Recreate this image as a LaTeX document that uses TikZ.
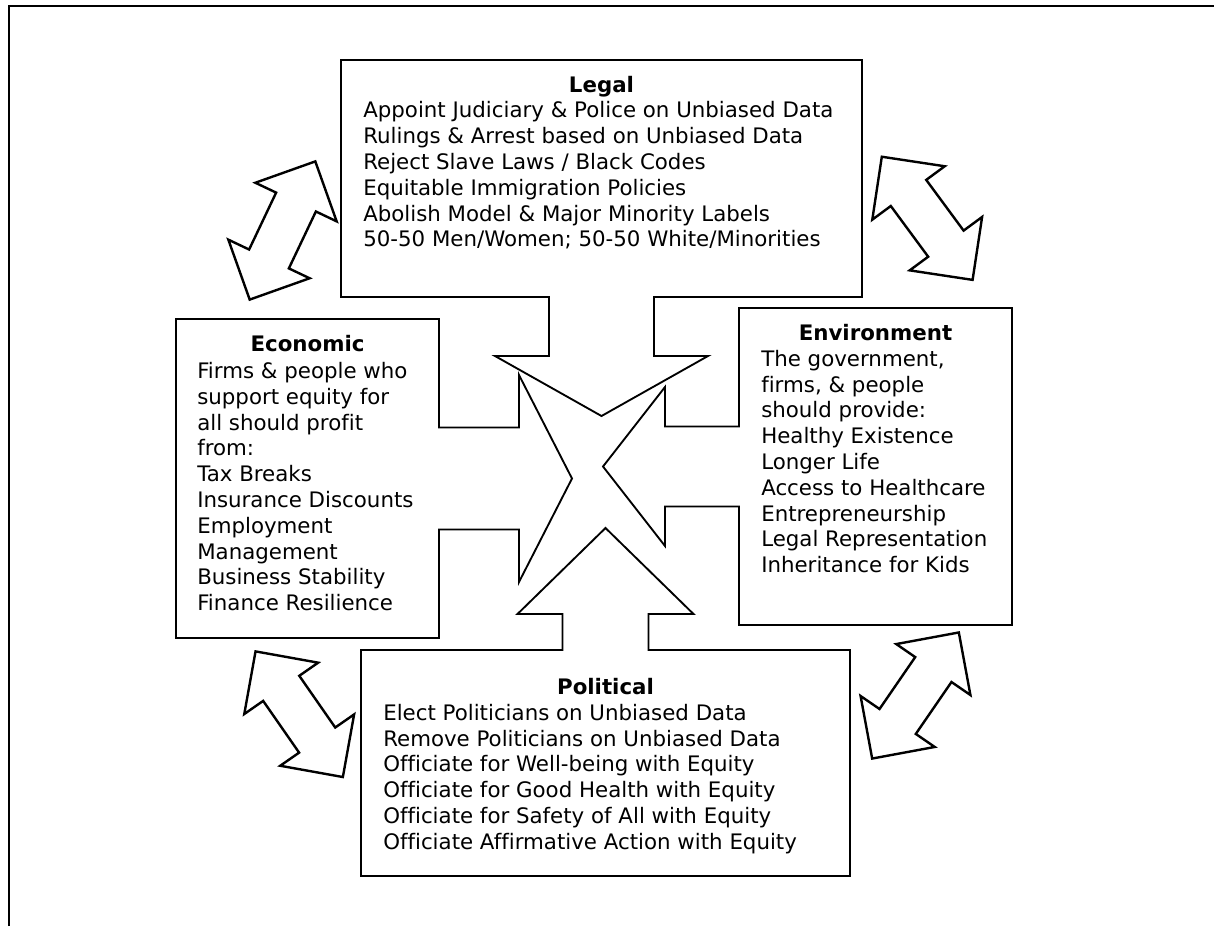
\documentclass[tikz,border=0pt]{standalone}
\usepackage{fontspec}
\setmainfont{DejaVu Sans}[Ligatures=NoCommon]
\usetikzlibrary{calc}

\newcommand{\pxl}{0.75pt}

\begin{document}
\begin{tikzpicture}[x=\pxl, y=-\pxl,
  area/.style={inner sep=0pt, outer sep=0pt},
  callout/.style={draw=black, line width=1.4pt, fill=white, line join=miter},
  blockarrow/.style={draw=black, line width=1.8pt, fill=white, line join=miter},
  heading/.style={inner sep=0pt, anchor=north,
    font=\fontsize{16}{19.35}\selectfont\bfseries},
  bodytext/.style={inner sep=0pt, align=left, anchor=north west,
    font=\fontsize{16}{19.35}\selectfont}]

  \useasboundingbox (0,0) rectangle (1214,926);

  % outer frame
  \draw[line width=2pt] (9,926) -- (9,6) -- (1214,6);

  % the four areas
  \node[area, minimum width=521*\pxl, minimum height=237*\pxl] (legal) at (601.5,178.5) {};
  \node[area, minimum width=263*\pxl, minimum height=319*\pxl] (economic) at (307.5,478.5) {};
  \node[area, minimum width=273*\pxl, minimum height=317*\pxl] (environ) at (875.5,466.5) {};
  \node[area, minimum width=489*\pxl, minimum height=226*\pxl] (political) at (605.5,763) {};

  % callout outlines, each with its arrow to the middle
  \draw[callout] (legal.south west) -- (legal.north west) -- (legal.north east) -- (legal.south east)
    -- ($(legal.south)+(52.5,0)$) -- ++(0,59) -- ++(54,0) -- ($(legal.south)+(0,119)$)
    -- ++(-106.5,-60) -- ++(54,0) -- ++(0,-59) -- cycle;
  \draw[callout] (economic.south east) -- (economic.south west) -- (economic.north west) -- (economic.north east)
    -- ($(economic.east)+(0,-51)$) -- ++(80,0) -- ++(0,-52.5) -- ($(economic.east)+(133,0)$)
    -- ++(-53,103.5) -- ++(0,-52.5) -- ++(-80,0) -- cycle;
  \draw[callout] (environ.north west) -- (environ.north east) -- (environ.south east) -- (environ.south west)
    -- ($(environ.west)+(0,40)$) -- ++(-74,0) -- ++(0,39.5) -- ($(environ.west)+(-136,0)$)
    -- ++(62,-79.5) -- ++(0,39.5) -- ++(74,0) -- cycle;
  \draw[callout] (political.north west) -- ($(political.north)+(-43,0)$) -- ++(0,-36) -- ++(-45,0)
    -- ($(political.north)+(0,-122)$) -- ++(88,86) -- ++(-45,0) -- ++(0,36)
    -- (political.north east) -- (political.south east) -- (political.south west) -- cycle;

  % double arrows between the areas
  \foreach \cx/\cy/\ang in {282.5/230.5/64.6, 927.2/218.3/126.4,
                            299.2/714.2/124.8, 915.5/695.5/55.5}
    \draw[blockarrow, shift={(\cx,\cy)}, rotate=\ang]
      (76.5,0) -- (31.5,45) -- (31.5,22) -- (-31.5,22) -- (-31.5,45) -- (-76.5,0)
      -- (-31.5,-45) -- (-31.5,-22) -- (31.5,-22) -- (31.5,-45) -- cycle;

  % texts
  \node[heading] (legal-title) at ($(legal.north)+(0,15.8)$) {Legal};
  \node[bodytext] (legal-text) at ($(legal.north west)+(22,41.5)$)
    {Appoint Judiciary \& Police on Unbiased Data\\
     Rulings \& Arrest based on Unbiased Data\\
     Reject Slave Laws / Black Codes\\
     Equitable Immigration Policies\\
     Abolish Model \& Major Minority Labels\\
     50-50 Men/Women; 50-50 White/Minorities};

  \node[heading] (economic-title) at ($(economic.north)+(0,16.5)$) {Economic};
  \node[bodytext] (economic-text) at ($(economic.north west)+(21,43)$)
    {Firms \& people who\\
     support equity for\\
     all should profit\\
     from:\\
     Tax Breaks\\
     Insurance Discounts\\
     Employment\\
     Management\\
     Business Stability\\
     Finance Resilience};

  \node[heading] (environ-title) at ($(environ.north)+(0,15.8)$) {Environment};
  \node[bodytext] (environ-text) at ($(environ.north west)+(22,41.8)$)
    {The government,\\
     firms, \& people\\
     should provide:\\
     Healthy Existence\\
     Longer Life\\
     Access to Healthcare\\
     Entrepreneurship\\
     Legal Representation\\
     Inheritance for Kids};

  \node[heading] (political-title) at ($(political.north)+(0,27.8)$) {Political};
  \node[bodytext] (political-text) at ($(political.north west)+(22,53.8)$)
    {Elect Politicians on Unbiased Data\\
     Remove Politicians on Unbiased Data\\
     Officiate for Well-being with Equity\\
     Officiate for Good Health with Equity\\
     Officiate for Safety of All with Equity\\
     Officiate Affirmative Action with Equity};

\end{tikzpicture}
\end{document}
